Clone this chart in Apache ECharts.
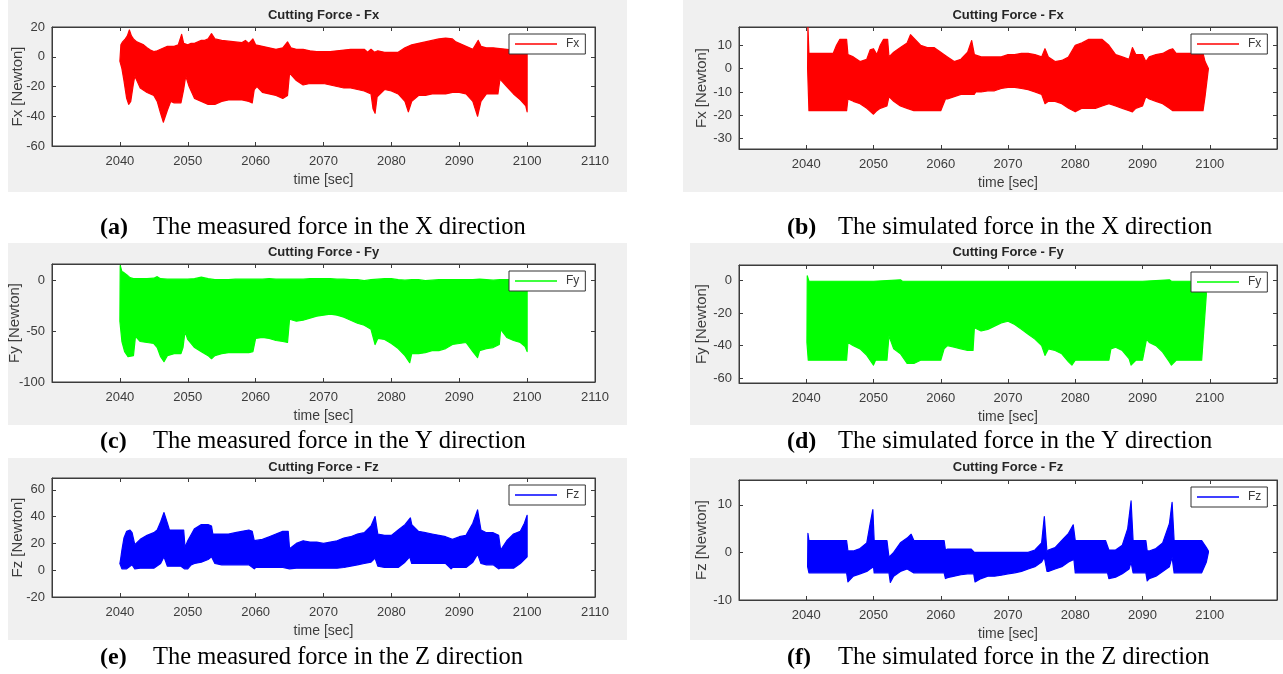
<!DOCTYPE html>
<html><head><meta charset="utf-8">
<script src="https://cdn.jsdelivr.net/npm/echarts@6.0.0/dist/echarts.min.js"></script>
<style>html,body{margin:0;padding:0;background:#fff;}#chart{width:1283px;height:674px;}</style>
</head><body><div id="chart"></div>
<script>
// ---------------- DATA ----------------
const xTickLabels = [2040, 2050, 2060, 2070, 2080, 2090, 2100, 2110];

// (a) measured Fx : upper / lower envelope of the oscillating signal [time, N]
const fxMeasUpper = [[2040.0,-3],[2040.15,8],[2040.4,10],[2040.8,12],[2041.1,14],[2041.4,18],[2041.7,14],[2042,12],[2042.5,10],[2043,9],[2043.5,8],[2044,6],[2044.5,4.5],[2045,3.5],[2045.5,4],[2046,5],[2046.5,6],[2047,7],[2048,7],[2048.6,8],[2049.1,15],[2049.4,9],[2050,8],[2050.5,9],[2051,9],[2051.5,10],[2052,11],[2052.5,11],[2053,12],[2053.5,15.5],[2054,12],[2055,11],[2056,10.5],[2057,10],[2058,9.5],[2058.5,11],[2059,9],[2059.6,12],[2060,8],[2061,7],[2062,6],[2063,5],[2064,6],[2064.7,10],[2065.2,6],[2066,5],[2067,5],[2068,4],[2069,3.5],[2070,3.5],[2071,3.5],[2072,4],[2073,4.5],[2074,5],[2075,5],[2076,5],[2076.5,3],[2077,5],[2077.5,3],[2078,4],[2079,3],[2080,3],[2081,3],[2082,6],[2083,8],[2084,9],[2085,10],[2086,11],[2087,12],[2088,12.5],[2089,12],[2089.5,10],[2090,9],[2091,7],[2092,5],[2092.8,11],[2093.2,7],[2094,6],[2095,6],[2096,5.5],[2097,5],[2098,4.5],[2099,4],[2099.8,3],[2100,3]];
const fxMeasLower = [[2040.0,-3],[2040.3,-8],[2040.6,-16],[2041,-28],[2041.3,-32],[2041.6,-30],[2042,-18],[2042.2,-13],[2042.6,-17],[2043,-21],[2044,-24],[2045,-26],[2045.5,-30],[2046,-38],[2046.4,-44],[2047,-36],[2047.5,-30],[2048,-31],[2049,-31],[2049.4,-22],[2049.7,-13],[2050.2,-20],[2051,-28],[2052,-30],[2053,-32],[2054,-32],[2055,-30],[2056,-29],[2057,-29],[2058,-29],[2059,-30],[2059.5,-31],[2059.8,-22],[2060.2,-20],[2061,-24],[2062,-25],[2063,-26],[2064,-28],[2064.7,-26],[2065,-11],[2066,-16],[2067,-19],[2068,-18],[2069,-18],[2070,-18],[2071,-19],[2072,-20],[2073,-21],[2074,-21],[2075,-22],[2076,-23],[2077,-25],[2077.3,-35],[2077.6,-38],[2077.9,-27],[2079,-22],[2080,-23],[2081,-25],[2082,-30],[2082.5,-37],[2083,-30],[2084,-26],[2085,-26],[2086,-25],[2087,-25],[2088,-25],[2089,-24],[2090,-24],[2091,-25],[2092,-30],[2092.7,-40],[2093.2,-30],[2094,-25],[2095,-25],[2095.7,-25],[2096,-15],[2097,-20],[2098,-25],[2099,-29],[2099.8,-33],[2100,-37]];

// (b) simulated Fx
const fxSimUpper = [[2040.2,0],[2040.25,18],[2040.4,6.5],[2041,6.5],[2042,6.5],[2043,6.5],[2044,6.5],[2044.5,10],[2045,12.5],[2046,12.5],[2046.2,6],[2047,5],[2048,3],[2049,4],[2049.5,8],[2050,8.5],[2050.5,6],[2051,10],[2051.5,12.5],[2052.1,12.5],[2052.3,5],[2053,7],[2054,9],[2055,11],[2055.5,14.5],[2056,13],[2057,10],[2058,9],[2059,9],[2060,7],[2061,5],[2062,3],[2063,4],[2064,7],[2064.6,12],[2065,6],[2066,5],[2067,5],[2068,5],[2069,5],[2070,6],[2071,6],[2072,6.5],[2073,6.5],[2074,6],[2075,5],[2075.5,8.5],[2076,5],[2077,3],[2078,3.5],[2079,5],[2080,10],[2081,11],[2082,12.5],[2083,12.5],[2084,12.5],[2085,10],[2086,6],[2087,5],[2088,4],[2088.5,9],[2089,6],[2090,6],[2090.5,3],[2091,5],[2092,6],[2093,6.5],[2094,8],[2094.5,8.5],[2095,6.5],[2096,6.5],[2097,6.5],[2098,6.5],[2099,6.5],[2099.3,3],[2099.8,0]];
const fxSimLower = [[2040.2,0],[2040.4,-18],[2041,-18],[2042,-18],[2043,-18],[2044,-18],[2045,-18],[2046,-18],[2046.2,-13],[2047,-14],[2048,-15],[2049,-17],[2050,-19.5],[2050.5,-18],[2051,-17],[2052,-16],[2052.3,-12],[2053,-14],[2054,-16],[2055,-17],[2056,-18],[2057,-18],[2058,-18],[2059,-18],[2060,-18],[2060.7,-13],[2061,-13],[2062,-12],[2063,-11],[2064,-11],[2065,-11],[2065.2,-10],[2066,-10],[2067,-9.5],[2068,-9.5],[2069,-8.5],[2070,-8],[2071,-8],[2072,-8.5],[2073,-9],[2074,-10],[2075,-11],[2075.5,-15],[2076,-14],[2077,-14],[2078,-15],[2079,-17],[2080,-18.5],[2081,-17],[2082,-17],[2083,-17],[2084,-16],[2085,-15],[2086,-16],[2087,-17],[2088,-18],[2088.5,-18.5],[2089,-17],[2090,-16],[2090.5,-12],[2091,-13],[2092,-14],[2093,-15],[2094,-17],[2094.5,-18],[2095,-18],[2096,-18],[2097,-18],[2098,-18],[2099,-18],[2099.3,-12],[2099.8,0]];

// (c) measured Fy
const fyMeasUpper = [[2040,-40],[2040.05,15],[2040.3,9],[2040.6,8],[2041,6],[2041.5,3],[2042,2],[2043,2],[2044,2],[2045,2.5],[2045.5,4],[2046,2],[2047,1.5],[2048,1.5],[2049,1.5],[2050,1.5],[2051,2],[2052,3.5],[2053,2],[2054,1],[2055,1],[2056,1],[2057,1.5],[2058,1.5],[2059,1.5],[2060,1.5],[2061,1.5],[2062,2],[2063,1.5],[2064,1.5],[2065,1.5],[2066,1.5],[2067,1.5],[2068,2],[2069,2],[2070,2],[2071,2],[2072,1.5],[2073,1.5],[2074,1],[2075,1],[2076,0],[2077,1],[2078,1.5],[2079,2],[2080,2],[2081,1],[2082,0.5],[2083,1],[2084,1],[2085,0],[2086,0.5],[2087,1],[2088,1],[2089,1],[2090,1],[2091,1],[2092,1],[2093,1.5],[2094,1],[2095,0.5],[2096,1],[2097,1],[2098,1],[2099,0.5],[2100,0.5]];
const fyMeasLower = [[2040,-40],[2040.3,-60],[2040.7,-70],[2041.2,-75],[2042,-74],[2042.3,-55],[2043,-60],[2044,-61],[2045,-62],[2045.5,-66],[2046,-75],[2046.5,-80],[2047,-74],[2048,-72],[2049,-72],[2049.3,-66],[2049.6,-50],[2050,-58],[2051,-66],[2052,-70],[2053,-74],[2053.5,-77],[2054,-74],[2055,-72],[2056,-71],[2057,-71],[2058,-71],[2059,-71],[2059.6,-70],[2060,-57],[2061,-56],[2062,-57],[2063,-59],[2064,-60],[2064.7,-61],[2065,-38],[2066,-40],[2067,-39],[2068,-37],[2069,-35],[2070,-34],[2071,-33],[2072,-34],[2073,-36],[2074,-39],[2075,-42],[2076,-44],[2077,-48],[2077.6,-63],[2078,-57],[2079,-58],[2080,-62],[2081,-67],[2082,-74],[2082.7,-81],[2083,-72],[2084,-72],[2085,-71],[2086,-69],[2087,-69],[2088,-67],[2089,-63],[2090,-62],[2091,-61],[2092,-70],[2092.7,-76],[2093,-69],[2094,-67],[2095,-66],[2095.9,-63],[2096.1,-48],[2097,-56],[2098,-59],[2099,-61],[2099.7,-65],[2100,-70]];

// (d) simulated Fy
const fySimUpper = [[2040.1,-38],[2040.15,3],[2040.4,-0.4],[2045,-0.4],[2050,-0.4],[2054,0.5],[2054.3,-0.4],[2060,-0.4],[2070,-0.4],[2080,-0.4],[2090,-0.4],[2094,0.5],[2094.3,-0.4],[2099.1,-0.4],[2099.5,-8]];
const fySimLower = [[2040.1,-38],[2040.3,-49],[2041,-49],[2042,-49],[2043,-49],[2044,-49],[2045,-49],[2046,-49],[2046.2,-38],[2047,-40],[2048,-42],[2049,-46],[2050,-52],[2050.3,-49],[2051,-49],[2052,-49],[2052.3,-34],[2053,-42],[2054,-45],[2055,-51],[2056,-51],[2057,-49],[2058,-49],[2059,-49],[2060,-49],[2060.5,-42],[2061,-40],[2062,-41],[2063,-42],[2064,-43],[2064.8,-43],[2065,-29],[2066,-31],[2067,-30],[2068,-28],[2069,-26],[2070,-25],[2071,-27],[2072,-30],[2073,-33],[2074,-36],[2075,-40],[2075.5,-46],[2076,-42],[2077,-43],[2078,-45],[2079,-50],[2079.5,-52],[2080,-49],[2081,-49],[2082,-49],[2083,-49],[2084,-49],[2085,-49],[2085.3,-42],[2086,-41],[2087,-43],[2088,-48],[2088.3,-52],[2089,-49],[2090,-49],[2090.6,-36],[2091,-38],[2092,-40],[2093,-44],[2094,-50],[2094.3,-52],[2095,-49],[2096,-49],[2097,-49],[2098,-49],[2098.8,-49],[2099.5,-8]];

// (e) measured Fz
const fzMeasUpper = [[2040,5],[2040.1,8],[2040.3,15],[2040.6,24],[2041,29],[2041.5,30],[2041.8,28],[2042.2,19],[2043,23],[2044,26],[2045,28],[2045.5,30],[2046,36],[2046.5,43],[2047,35],[2047.3,30],[2048,30],[2049,30],[2049.4,30],[2049.6,17],[2050,22],[2051,31],[2052,34],[2053,34],[2053.5,33],[2053.7,27],[2055,27],[2056,27],[2057,28],[2058,29],[2059,30],[2059.5,29],[2059.8,22],[2061,23],[2062,25],[2063,27],[2064,29],[2064.8,29],[2065,16],[2066,20],[2067,22],[2068,21],[2069,21],[2070,20],[2071,21],[2072,22],[2073,24],[2074,25],[2075,27],[2076,28],[2077,33],[2077.6,40],[2078,27],[2079,26],[2080,26],[2081,30],[2082,34],[2082.8,39],[2083,34],[2084,29],[2085,28],[2086,27],[2087,26],[2088,25],[2089,23],[2090,25],[2091,26],[2092,35],[2092.7,45],[2093.2,30],[2094,28],[2095,28],[2095.8,26],[2096.1,15],[2097,22],[2098,27],[2099,29],[2099.6,35],[2100,41]];
const fzMeasLower = [[2040,5],[2040.3,1],[2041,1],[2041.5,3],[2041.8,4],[2042.2,1],[2043,1.5],[2044,1.5],[2045,1.5],[2046,5],[2046.5,10],[2047,3],[2048,3],[2049,3],[2049.5,1],[2050,1],[2050.5,4],[2051,5],[2052,6],[2053,8],[2053.5,10],[2054,5],[2055,4],[2056,4],[2057,4],[2058,4],[2059,4],[2059.8,1],[2060,2],[2061,2],[2062,2],[2063,2],[2064,2],[2065,1],[2066,1.5],[2067,1.5],[2068,1.5],[2069,1.5],[2070,1.5],[2071,1.5],[2072,1.5],[2073,2],[2074,3],[2075,4],[2076,5],[2077,6],[2077.6,9],[2078,3],[2079,2],[2080,2],[2081,2],[2082,6],[2082.7,10],[2083,5],[2084,5],[2085,5],[2086,5],[2087,5],[2088,5],[2088.8,1],[2089,2],[2090,2],[2091,2],[2092,6],[2092.7,12],[2093.2,5],[2094,4],[2095,4],[2095.8,1],[2096,1.5],[2097,1.5],[2098,1.5],[2099,5],[2100,10]];

// (f) simulated Fz
const fzSimUpper = [[2040.2,-3],[2040.25,4],[2040.4,2.5],[2041,2.5],[2042,2.5],[2043,2.5],[2044,2.5],[2045,2.5],[2046,2.5],[2046.2,0.3],[2047,0.3],[2048,0.8],[2049,2],[2049.5,6],[2049.9,9],[2050.1,2.5],[2051,2.5],[2052,2.5],[2052.3,-1],[2053,0],[2054,2],[2055,3],[2055.6,3.8],[2056,2.5],[2057,2.5],[2058,2.5],[2059,2.5],[2060.5,2.5],[2060.7,0.5],[2061,0.7],[2062,0.7],[2063,0.7],[2064.5,0.7],[2065,0],[2066,0],[2067,0],[2068,0],[2069,0],[2070,0],[2071,0],[2072,0],[2073,0],[2074,0.5],[2075,2],[2075.4,7.5],[2075.8,0],[2076,0.5],[2077,1],[2078,2.5],[2079,4],[2079.7,5.8],[2080,2.5],[2081,2.5],[2082,2.5],[2083,2.5],[2084.5,2.5],[2085,0.5],[2086,0.5],[2087,1.5],[2087.8,5],[2088.3,10.8],[2088.6,2.5],[2089,2.5],[2090.5,2.5],[2090.7,0.3],[2091,0.3],[2092,0.8],[2093,2],[2094,6],[2094.4,10.5],[2094.7,2.5],[2095,2.5],[2096,2.5],[2097,2.5],[2098,2.5],[2098.8,2.5],[2099.5,1],[2099.8,0.3]];
const fzSimLower = [[2040.2,-3],[2040.4,-4.3],[2041,-4.3],[2042,-4.3],[2043,-4.3],[2044,-4.3],[2045,-4.3],[2046,-4.3],[2046.2,-6.2],[2047,-5],[2048,-4.5],[2049,-4],[2049.5,-3.5],[2050,-3],[2050.1,-4.3],[2051,-4.3],[2052.3,-4.3],[2052.5,-6.3],[2053,-5],[2054,-4],[2055,-3.5],[2056,-4.3],[2057,-4.3],[2058,-4.3],[2059,-4.3],[2060.5,-4.3],[2060.7,-5.5],[2061,-5.3],[2062,-5],[2063,-4.7],[2064,-4.5],[2064.9,-4.5],[2065.1,-6.2],[2066,-5.5],[2067,-5],[2068,-5],[2069,-4.8],[2070,-4.5],[2071,-4.3],[2072,-4],[2073,-3.5],[2074,-3],[2075,-2],[2075.4,-1],[2075.8,-4],[2076,-4],[2077,-3.5],[2078,-3],[2079,-2],[2079.8,-1.5],[2080,-4.3],[2081,-4.3],[2082,-4.3],[2083,-4.3],[2084.8,-4.3],[2085,-5.5],[2086,-5.2],[2087,-4.5],[2088,-3.5],[2088.3,-2],[2088.6,-4.3],[2089,-4.3],[2090.5,-4.3],[2090.7,-6],[2091,-5.5],[2092,-5],[2093,-4],[2094,-3],[2094.4,-1],[2094.7,-4.3],[2095,-4.3],[2096,-4.3],[2097,-4.3],[2098,-4.3],[2098.8,-4.3],[2099.5,-2],[2099.8,0]];

const upperSets = [fxMeasUpper, fxSimUpper, fyMeasUpper, fySimUpper, fzMeasUpper, fzSimUpper];
const lowerSets = [fxMeasLower, fxSimLower, fyMeasLower, fySimLower, fzMeasLower, fzSimLower];
const seriesNames = ['Fx', 'Fx', 'Fy', 'Fy', 'Fz', 'Fz'];
const panelTitles = ['Cutting Force - Fx', 'Cutting Force - Fx', 'Cutting Force - Fy', 'Cutting Force - Fy', 'Cutting Force - Fz', 'Cutting Force - Fz'];
const yAxisNames = ['Fx [Newton]', 'Fx [Newton]', 'Fy [Newton]', 'Fy [Newton]', 'Fz [Newton]', 'Fz [Newton]'];
const xAxisName = 'time [sec]';
const yTickLabels = [[-60,-40,-20,0,20], [-30,-20,-10,0,10], [-100,-50,0], [-60,-40,-20,0], [-20,0,20,40,60], [-10,0,10]];
const yRanges = [[-60,20], [-34.4,17.8], [-100,16.5], [-63,9.6], [-20,68.8], [-10,15.2]];
const xRange = [2030, 2110];
const captionTags = ['(a)', '(b)', '(c)', '(d)', '(e)', '(f)'];
const captionTexts = ['The measured force in the X direction', 'The simulated force in the X direction',
  'The measured force in the Y direction', 'The simulated force in the Y direction',
  'The measured force in the Z direction', 'The simulated force in the Z direction'];

// ---------------- LAYOUT / STYLE ----------------
const colors = ['#ff0000', '#ff0000', '#00ff00', '#00ff00', '#0000ff', '#0000ff'];
const layout = [
  {grid:{left:52, top:27, width:543, height:119}, bg:[8,0,619,192], titleY:15, capY:228, tagX:100, textX:153, show2110:true, yGap:27, moveOverlap:false},
  {grid:{left:739, top:27, width:538, height:122}, bg:[683,0,600,192], titleY:15, capY:228, tagX:787, textX:838, show2110:false, yGap:28, moveOverlap:true},
  {grid:{left:52, top:264, width:543, height:118}, bg:[8,243,619,182], titleY:252, capY:442, tagX:100, textX:153, show2110:true, yGap:30, moveOverlap:false},
  {grid:{left:739, top:265, width:538, height:118}, bg:[690,243,593,182], titleY:252, capY:442, tagX:787, textX:838, show2110:false, yGap:28, moveOverlap:true},
  {grid:{left:52, top:478, width:543, height:119}, bg:[8,458,619,182], titleY:467, capY:658, tagX:100, textX:153, show2110:true, yGap:27, moveOverlap:false},
  {grid:{left:739, top:480, width:538, height:120}, bg:[690,458,593,182], titleY:467, capY:658, tagX:787, textX:838, show2110:false, yGap:28, moveOverlap:true}
];
const axisColor = '#3c3c3c';
const labelFont = 'Liberation Sans, Arial, sans-serif';

const grids = [], xAxes = [], yAxes = [], series = [], legends = [], graphics = [];

layout.forEach((L, i) => {
  const g = L.grid;
  grids.push({left:g.left, top:g.top, width:g.width, height:g.height, show:true,
    backgroundColor:'#ffffff', borderColor:axisColor, borderWidth:1, containLabel:false});
  graphics.push({type:'rect', z:-10, shape:{x:L.bg[0], y:L.bg[1], width:L.bg[2], height:L.bg[3]}, style:{fill:'#f0f0f0'}});
  graphics.push({type:'text', z:10, x:g.left + g.width/2, y:L.titleY,
    style:{text:panelTitles[i], font:'bold 13px ' + labelFont, fill:'#262626', textAlign:'center', textVerticalAlign:'middle'}});
  graphics.push({type:'text', z:10, x:L.tagX, y:L.capY,
    style:{text:captionTags[i], font:'bold 24px Liberation Serif, Times New Roman, serif', fill:'#000', textAlign:'left', textVerticalAlign:'middle'}});
  graphics.push({type:'text', z:10, x:L.textX, y:L.capY,
    style:{text:captionTexts[i], font:'24.5px Liberation Serif, Times New Roman, serif', fill:'#000', textAlign:'left', textVerticalAlign:'middle'}});

  const show2110 = L.show2110;
  const xCommon = {type:'value', gridIndex:i, min:xRange[0], max:xRange[1], interval:10,
    axisLine:{show:true, onZero:false, lineStyle:{color:axisColor, width:1}},
    axisTick:{show:true, inside:true, length:4, lineStyle:{color:axisColor}},
    splitLine:{show:false}};
  xAxes.push(Object.assign({}, xCommon, {position:'bottom', name:xAxisName, nameLocation:'middle', nameGap:27,
    nameTextStyle:{fontSize:14, color:axisColor, fontFamily:labelFont},
    axisLabel:{show:true, margin:9, fontSize:13, color:axisColor, fontFamily:labelFont,
      customValues: xTickLabels.filter(v => show2110 || v !== 2110),
      formatter: v => String(v)}}));
  xAxes.push(Object.assign({}, xCommon, {position:'top', axisLabel:{show:false}}));

  const yCommon = {type:'value', gridIndex:i, min:yRanges[i][0], max:yRanges[i][1],
    axisLine:{show:true, onZero:false, lineStyle:{color:axisColor, width:1}},
    axisTick:{show:true, inside:true, length:4, customValues:yTickLabels[i], lineStyle:{color:axisColor}},
    splitLine:{show:false}};
  yAxes.push(Object.assign({}, yCommon, {position:'left', name:yAxisNames[i], nameLocation:'middle', nameGap:L.yGap,
    nameMoveOverlap:L.moveOverlap,
    nameTextStyle:{fontSize:15, color:axisColor, fontFamily:labelFont},
    axisLabel:{show:true, margin:7, fontSize:13, color:axisColor, fontFamily:labelFont, customValues:yTickLabels[i],
      formatter: v => String(v)}}));
  yAxes.push(Object.assign({}, yCommon, {position:'right', axisLabel:{show:false}}));

  const up = upperSets[i], lo = lowerSets[i];
  series.push({
    type:'custom', name:seriesNames[i], xAxisIndex:2*i, yAxisIndex:2*i, silent:true,
    itemStyle:{color:colors[i]},
    encode:{x:0, y:1},
    data: up.concat(lo),
    clip:true,
    renderItem: function (params, api) {
      if (params.dataIndex !== 0) return null;
      const pts = [];
      for (let k = 0; k < up.length; k++) pts.push(api.coord(up[k]));
      for (let k = lo.length - 1; k >= 0; k--) pts.push(api.coord(lo[k]));
      return {type:'polygon', shape:{points:pts},
        style:{fill:colors[i], stroke:colors[i], lineWidth:1.2, lineJoin:'round'}};
    }
  });

  legends.push({
    data:[{name:seriesNames[i], icon:'rect', itemStyle:{color:colors[i]}}],
    left: g.left + g.width - 86, top: g.top + 7,
    itemWidth:42, itemHeight:1.5, itemGap:4,
    backgroundColor:'#ffffff', borderColor:'#333333', borderWidth:1, borderRadius:0,
    padding:[4,6,4,6], selectedMode:false,
    textStyle:{fontSize:12, color:axisColor, fontFamily:labelFont, padding:[0,0,0,4]}
  });
});

const chart = echarts.init(document.getElementById('chart'), null, {renderer:'canvas'});
chart.setOption({
  animation:false,
  backgroundColor:'#ffffff',
  grid:grids, xAxis:xAxes, yAxis:yAxes, series:series, legend:legends, graphic:graphics
});
</script>
</body></html>
